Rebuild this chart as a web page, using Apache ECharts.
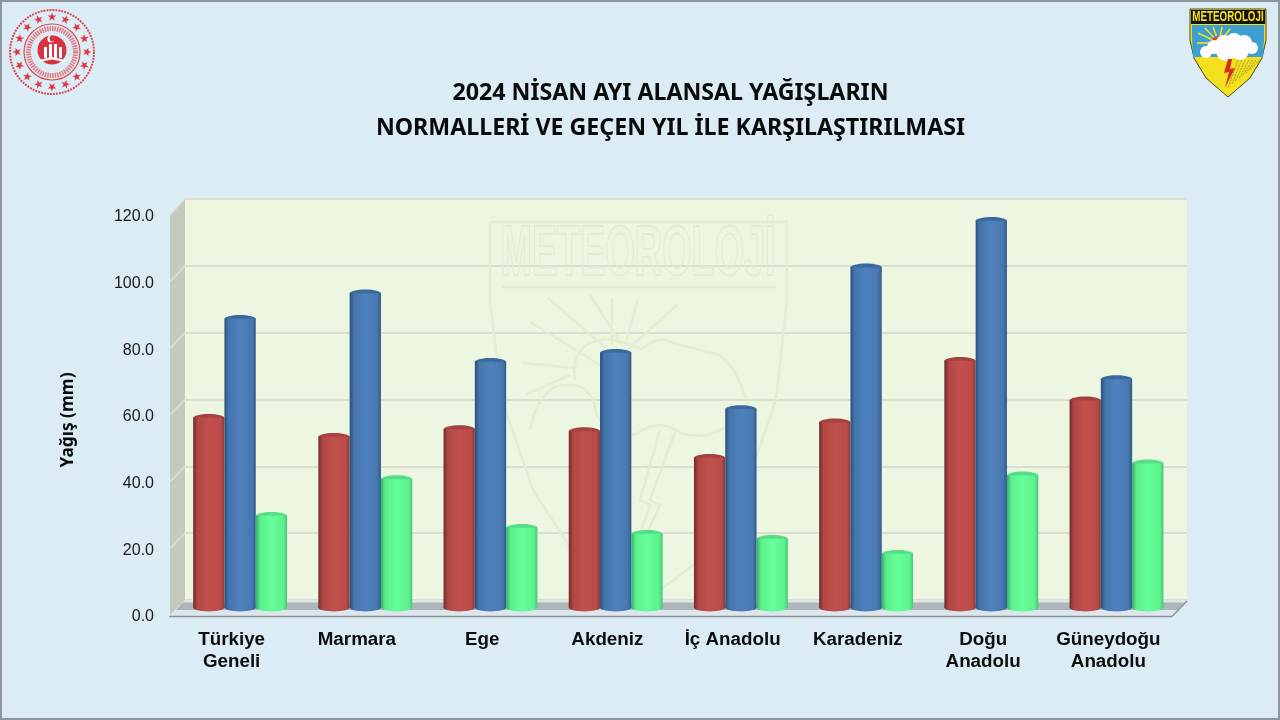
<!DOCTYPE html>
<html><head><meta charset="utf-8">
<style>html,body{margin:0;padding:0;background:#dbecf4}#c{width:1280px;height:720px}</style>
<script src="https://cdn.jsdelivr.net/npm/echarts@6/dist/echarts.min.js"></script>
</head><body><div id="c"></div>
<script>
const categories = ['Türkiye\nGeneli','Marmara','Ege','Akdeniz','İç Anadolu','Karadeniz','Doğu\nAnadolu','Güneydoğu\nAnadolu'];
const redValues   = [56.9, 51.2, 53.5, 52.9, 44.9, 55.5, 74.0, 62.1];
const blueValues  = [86.6, 94.2, 73.7, 76.4, 59.5, 102.0, 116.0, 68.5];
const greenValues = [27.5, 38.5, 23.9, 22.1, 20.6, 16.1, 39.6, 43.2];
const titleLines = ['2024 NİSAN AYI ALANSAL YAĞIŞLARIN','NORMALLERİ VE GEÇEN YIL İLE KARŞILAŞTIRILMASI'];
const yAxisName = 'Yağış (mm)';
const logoText = 'METEOROLOJİ';

const grad = s => new echarts.graphic.LinearGradient(0,0,1,0,[
  {offset:0,color:s[0]},{offset:.14,color:s[1]},{offset:.5,color:s[2]},{offset:.88,color:s[3]},{offset:1,color:s[4]}]);
const palettes = [
  {stops:['#6e2b2a','#b14744','#c2504d','#ba4b48','#8f3a38'],cap:'#a54240'},
  {stops:['#28507f','#4675ad','#4f81bd','#4878b0','#31598a'],cap:'#3a699d'},
  {stops:['#35ad6b','#5bef8c','#66ff99','#5df28e','#44c878'],cap:'#55dd88'}
];
const valuesBySeries = [redValues, blueValues, greenValues];
const barFrac = 0.25;

function caps(idx){
  return function(params, api){
    const i = api.value(0), v = api.value(1);
    const top = api.coord([i,v]), base = api.coord([i,0]);
    const band = api.size([1,0])[0];
    const w = band*barFrac, rx = w/2, ry = 3.9;
    const cx = top[0] + (idx-1)*w;
    return {type:'group',children:[
      {type:'ellipse',shape:{cx:cx,cy:base[1],rx:rx,ry:ry},style:{fill:grad(palettes[idx].stops)}},
      {type:'ellipse',shape:{cx:cx,cy:top[1],rx:rx,ry:ry},style:{fill:palettes[idx].cap}}
    ]};
  };
}
const series = [];
valuesBySeries.forEach((vals,idx)=>{
  series.push({type:'bar',xAxisIndex:2,yAxisIndex:2,data:vals,barWidth:(barFrac*100)+'%',barGap:0,silent:true,
    itemStyle:{color:grad(palettes[idx].stops)},z:3});
  series.push({type:'custom',xAxisIndex:2,yAxisIndex:2,silent:true,z:3,
    data:vals.map((v,i)=>[i,v]),encode:{x:0,y:1},renderItem:caps(idx)});
});

// Decorations
const WM = '#e6ecd4';
const wmLine = (points,smooth)=>({type:'polyline',z:1,silent:true,shape:{points:points,smooth:smooth||0},style:{stroke:WM,lineWidth:2.5,fill:null}});
const deco = [];
deco.push({type:'rect',z:10,silent:true,shape:{x:1,y:1,width:1278,height:718},style:{fill:null,stroke:'#8e979b',lineWidth:2}});
// side wall
deco.push({type:'polygon',z:1,silent:true,shape:{points:[[170,215],[185,199],[185,600],[170,615]]},style:{fill:'#c4cbbc'}});
for(let k=0;k<6;k++){
  const yb=199+k*66.8, yf=215+k*66.7;
  deco.push({type:'line',z:1,silent:true,shape:{x1:170,y1:yf,x2:185,y2:yb},style:{stroke:'#dadfd2',lineWidth:1.5}});
}
// floor
deco.push({type:'polygon',z:1,silent:true,shape:{points:[[170,616],[185,600],[1187,600],[1172,616]]},style:{fill:'#dde6ea'}});
deco.push({type:'polygon',z:1,silent:true,shape:{points:[[176,610],[185,600],[1187,600],[1178,610]]},style:{fill:'#adb6ba'}});
deco.push({type:'polygon',z:1,silent:true,shape:{points:[[183,602.5],[185,600],[1187,600],[1185,602.5]]},style:{fill:'#dfe5e1'}});
deco.push({type:'line',z:1,silent:true,shape:{x1:169,y1:616.5,x2:1172,y2:616.5},style:{stroke:'#8a9498',lineWidth:1.5}});
deco.push({type:'line',z:1,silent:true,shape:{x1:1172,y1:616.5,x2:1187,y2:601},style:{stroke:'#8f989b',lineWidth:1.5}});
// watermark
deco.push(wmLine([[490,222],[787,222],[787,300],[776,400],[745,490],[700,560],[640,605]]));
deco.push(wmLine([[490,222],[490,300],[502,400],[533,490],[578,560],[640,605]]));
deco.push(wmLine([[502,287],[776,287]]));
deco.push({type:'text',z:1,silent:true,x:638,y:256,scaleX:0.54,style:{x:0,y:0,text:logoText,align:'center',verticalAlign:'middle',
  font:'bold 70px "Liberation Sans"',fill:'rgba(0,0,0,0)',stroke:WM,lineWidth:2}});
[[[530,322],[600,365]],[[548,298],[610,352]],[[590,295],[622,345]],[[612,298],[612,345]],[[638,300],[625,345]],[[678,304],[625,352]],[[522,363],[575,368]],[[525,395],[570,375]]]
  .forEach(p=>deco.push(wmLine(p)));
deco.push(wmLine([[575,380],[578,355],[600,340],[625,343],[640,348]],0.5));
deco.push(wmLine([[640,350],[660,340],[680,345],[700,350],[725,360],[745,395],[750,410]],0.5));
deco.push(wmLine([[530,430],[545,395],[570,385],[590,395],[600,420],[625,435],[660,425],[690,435],[720,430],[745,410]],0.5));
deco.push(wmLine([[660,430],[640,500],[650,505],[625,580],[660,505],[650,500],[675,432]]));
// left seal
const SC='#dd4a53', sx=52, sy=52;
deco.push({type:'circle',z:2,silent:true,shape:{cx:sx,cy:sy,r:42},style:{fill:null,stroke:SC,lineWidth:2,lineDash:[2,1]}});
deco.push({type:'circle',z:2,silent:true,shape:{cx:sx,cy:sy,r:28},style:{fill:null,stroke:SC,lineWidth:1.2}});
deco.push({type:'circle',z:2,silent:true,shape:{cx:sx,cy:sy,r:23.5},style:{fill:null,stroke:'#e2757c',lineWidth:5,lineDash:[1.5,1]}});
deco.push({type:'circle',z:2,silent:true,shape:{cx:sx,cy:sy-2,r:14.5},style:{fill:'#d8333f'}});
for(let k=0;k<16;k++){
  const a=k/16*2*Math.PI, sR=35, pts=[];
  const c=[sx+sR*Math.sin(a), sy-sR*Math.cos(a)];
  for(let j=0;j<10;j++){const b=j/10*2*Math.PI+a, r=j%2?1.8:4.6;pts.push([c[0]+r*Math.sin(b),c[1]-r*Math.cos(b)]);}
  deco.push({type:'polygon',z:2,silent:true,shape:{points:pts},style:{fill:'#e0353f'}});
}
[[44,47,3,11],[49,44,3,14],[54,44,3,14],[59,47,3,11]].forEach(r=>deco.push({type:'rect',z:2,silent:true,shape:{x:r[0],y:r[1],width:r[2],height:r[3]},style:{fill:'#fff'}}));
deco.push({type:'circle',z:2,silent:true,shape:{cx:51,cy:39,r:3.6},style:{fill:'#fff'}});
deco.push({type:'circle',z:2,silent:true,shape:{cx:52.5,cy:38.5,r:3},style:{fill:'#d8333f'}});
deco.push({type:'polygon',z:2,silent:true,shape:{points:[[39,60],[52,57],[65,60],[65,62],[52,59.5],[39,62]]},style:{fill:'#fff'}});
// right shield
const shield=[[1190,9],[1266,9],[1266,40],[1262,58],[1250,78],[1228,97],[1206,78],[1194,58],[1190,40]];
deco.push({type:'polygon',z:2,silent:true,shape:{points:shield},style:{fill:'#f4e01c',stroke:'#4a4a20',lineWidth:1}});
deco.push({type:'polygon',z:2,silent:true,shape:{points:[[1192,25],[1264,25],[1264,40],[1263,57],[1193,57],[1192,40]]},style:{fill:'#3f9fd0'}});
deco.push({type:'rect',z:2,silent:true,shape:{x:1191,y:10,width:74,height:14},style:{fill:'#15140c'}});
deco.push({type:'text',z:2,silent:true,x:1228,y:17.5,scaleX:0.7,style:{x:0,y:0,text:logoText,align:'center',verticalAlign:'middle',font:'bold 14px "Liberation Sans"',fill:'#f4e01c'}});
[[1198,33],[1205,28],[1213,27],[1222,27],[1230,29],[1197,43]].forEach(p=>deco.push({type:'line',z:2,silent:true,shape:{x1:1219,y1:43,x2:p[0],y2:p[1]},style:{stroke:'#f4e01c',lineWidth:1.6}}));
deco.push({type:'circle',z:2,silent:true,shape:{cx:1219,cy:44,r:8},style:{fill:'#d4402c'}});
[[1206,52,6],[1214,47,7],[1224,43,8],[1234,41,8],[1244,43,8],[1252,48,6],[1226,51,10],[1240,51,9]].forEach(c=>deco.push({type:'circle',z:2,silent:true,shape:{cx:c[0],cy:c[1],r:c[2]},style:{fill:'#fdfdfd'}}));
for(let k=0;k<7;k++) deco.push({type:'line',z:2,silent:true,shape:{x1:1238+k*3.6,y1:60,x2:1228+k*3.6,y2:88-k*3},style:{stroke:'#9c9a3a',lineWidth:1,lineDash:[2,1]}});
deco.push({type:'polygon',z:2,silent:true,shape:{points:[[1232,59],[1228,59],[1224,73],[1229,72],[1225,88],[1235,68],[1230,69]]},style:{fill:'#d92b1f'}});

const chart = echarts.init(document.getElementById('c'),null,{renderer:'canvas',width:1280,height:720});
chart.setOption({
  animation:false,
  backgroundColor:'#dbecf4',
  title:{text:titleLines.join('\n'),left:665.5,top:71,textAlign:'center',
    textStyle:{fontFamily:'Noto Sans',fontWeight:'bold',fontSize:23.2,color:'#0a0a0a',lineHeight:35}},
  grid:[
    {left:185,width:1002,top:199,height:401,show:true,backgroundColor:'#edf6e0',borderWidth:0,z:0},
    {left:169,width:1002,top:217,height:400},
    {left:177.5,width:1001.6,top:207.5,height:400}
  ],
  xAxis:[
    {gridIndex:0,type:'category',show:false,data:categories},
    {gridIndex:1,type:'category',data:categories,axisLine:{show:false},axisTick:{show:false},
      axisLabel:{margin:12,interval:0,fontFamily:'Liberation Sans',fontWeight:'bold',fontSize:18.8,lineHeight:22,color:'#0d0d0d'}},
    {gridIndex:2,type:'category',show:false,data:categories}
  ],
  yAxis:[
    {gridIndex:0,type:'value',min:0,max:120,interval:20,axisLine:{show:false},axisTick:{show:false},axisLabel:{show:false},
      splitLine:{show:true,lineStyle:{color:'#d9ddd2',width:2}}},
    {gridIndex:1,type:'value',min:0,max:120,interval:20,axisLine:{show:false},axisTick:{show:false},splitLine:{show:false},
      axisLabel:{margin:15,fontFamily:'Liberation Sans',fontSize:16,color:'#1a1a1a',formatter:v=>v.toFixed(1)},
      name:yAxisName,nameLocation:'middle',nameGap:92,nameRotate:90,
      nameTextStyle:{fontFamily:'Noto Sans',fontWeight:'bold',fontSize:17.3,color:'#0a0a0a',padding:[0,6,0,0]}},
    {gridIndex:2,type:'value',show:false,min:0,max:120,interval:20,splitLine:{show:false}}
  ],
  series:series,
  graphic:{elements:deco}
});
</script></body></html>
